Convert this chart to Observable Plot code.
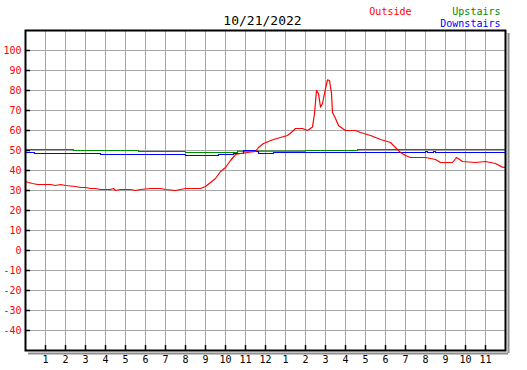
<!DOCTYPE html>
<html>
<head>
<meta charset="utf-8">
<script src="https://cdn.jsdelivr.net/npm/d3@7"></script>
<script src="https://cdn.jsdelivr.net/npm/@observablehq/plot@0.6"></script>
<style>
  html, body { margin: 0; padding: 0; background: #fff; }
  #chart svg { display: block; }
</style>
</head>
<body>
<div id="chart"></div>
<script>
const title = "10/21/2022";
const seriesNames = ["Outside", "Upstairs", "Downstairs"];
const seriesColors = ["#ff0000", "#008c00", "#0000ff"];

const outsideHours = [0, 0.15, 0.35, 0.6, 1.25, 1.5, 1.75, 2, 2.5, 2.75, 3, 3.25, 3.5, 3.75, 4.25, 4.4, 4.5, 4.75, 5.25, 5.5, 5.75, 6.25, 6.75, 7, 7.5, 7.75, 8, 8.5, 8.75, 9, 9.25, 9.5, 9.75, 10, 10.25, 10.5, 10.75, 11.1, 11.5, 11.65, 11.9, 12.4, 12.75, 13.1, 13.35, 13.5, 13.85, 14.1, 14.35, 14.45, 14.55, 14.65, 14.75, 14.85, 15, 15.1, 15.2, 15.3, 15.35, 15.5, 15.65, 15.85, 16, 16.5, 16.75, 17.25, 17.75, 18.25, 18.5, 18.75, 19, 19.25, 20, 20.5, 20.75, 21.35, 21.55, 21.85, 22.5, 23, 23.5, 23.85, 24];
const outsideTemps = [34.5, 34, 33.5, 33, 33, 32.5, 33, 32.5, 32, 31.5, 31.5, 31, 31, 30.5, 30.5, 31, 30, 30.5, 30.5, 30, 30.5, 31, 31, 30.5, 30, 30.5, 31, 31, 31, 32, 34, 36, 39.5, 41.5, 45, 48, 48.5, 49, 49.5, 51.5, 53.5, 55.5, 56.5, 57.5, 59.5, 61, 61, 60, 61.7, 68.5, 80, 78.5, 71.7, 73.5, 81, 85.3, 85, 78.5, 69, 66, 62.5, 61, 60, 60, 59, 57.5, 55.5, 54, 51.5, 49, 47.5, 46.5, 46.5, 45.5, 44, 44, 46.5, 44.5, 44, 44.5, 43.5, 41.7, 41.5];

const upstairsHours = [0, 2.4, 5.65, 8, 10.6, 14, 16.6, 24];
const upstairsTemps = [50.5, 50, 49.5, 49, 49.7, 50, 50.5, 50.5];

const downstairsHours = [0, 0.45, 3.75, 8, 9.65, 10.4, 10.9, 11.5, 11.65, 12.4, 20, 20.1, 20.4, 20.5, 24];
const downstairsTemps = [49, 48.5, 48, 47.5, 48, 48.5, 50, 49.5, 48.5, 49, 49.5, 49, 49.5, 49, 49];

const xTickValues = [1, 2, 3, 4, 5, 6, 7, 8, 9, 10, 11, 12, 13, 14, 15, 16, 17, 18, 19, 20, 21, 22, 23];
const xTickLabels = ["1", "2", "3", "4", "5", "6", "7", "8", "9", "10", "11", "12", "1", "2", "3", "4", "5", "6", "7", "8", "9", "10", "11"];
const yTickValues = [-40, -30, -20, -10, 0, 10, 20, 30, 40, 50, 60, 70, 80, 90, 100];

const toRows = (hs, vs) => hs.map((h, i) => ({h, v: vs[i]}));
const outside = toRows(outsideHours, outsideTemps);
const upstairs = toRows(upstairsHours, upstairsTemps);
const downstairs = toRows(downstairsHours, downstairsTemps);

const font = "'DejaVu Sans Mono', 'Liberation Mono', monospace";

const chart = Plot.plot({
  width: 527,
  height: 370,
  marginTop: 30,
  marginBottom: 20,
  marginLeft: 25,
  marginRight: 22,
  style: {fontFamily: font, fontSize: "10px", background: "#fff", overflow: "visible"},
  x: {domain: [0, 24], axis: null, label: null},
  y: {domain: [-50, 110], axis: null, label: null},
  marks: [
    Plot.gridX(d3.range(0, 25), {stroke: "#a6a6a6", strokeOpacity: 1, strokeWidth: 1}),
    Plot.gridY(d3.range(-50, 111, 10), {stroke: "#a6a6a6", strokeOpacity: 1, strokeWidth: 1}),
    Plot.tickY(yTickValues, {y: d => d, insetRight: 475, stroke: "black", strokeWidth: 1.5}),
    Plot.tickX(xTickValues, {x: d => d, insetTop: 315, stroke: "black", strokeWidth: 1.5}),
    Plot.line(upstairs, {x: "h", y: "v", curve: "step-after", stroke: seriesColors[1], strokeWidth: 1.2}),
    Plot.line(downstairs, {x: "h", y: "v", curve: "step-after", stroke: seriesColors[2], strokeWidth: 1.2}),
    Plot.line(outside, {x: "h", y: "v", stroke: seriesColors[0], strokeWidth: 1.2}),
    Plot.ruleX([24], {dx: 3, stroke: "#8c8c8c", strokeWidth: 2, insetTop: 3, insetBottom: -3}),
    Plot.ruleY([-50], {dy: 3, stroke: "#8c8c8c", strokeWidth: 2, insetLeft: 3, insetRight: -3}),
    Plot.frame({stroke: "black", strokeWidth: 2}),
    Plot.axisY({ticks: yTickValues, tickSize: 0, tickPadding: 4, color: "#ff0000", fontSize: 10, label: null, tickFormat: d => String(d)}),
    Plot.axisX({ticks: xTickValues, tickSize: 0, tickPadding: 5, color: "black", fontSize: 10, label: null, tickFormat: d => xTickLabels[xTickValues.indexOf(d)]}),
    Plot.text([title], {frameAnchor: "top", dy: -10, dx: -3, fontSize: 13, fill: "black", textAnchor: "middle", lineAnchor: "middle"}),
    Plot.text([seriesNames[0]], {frameAnchor: "top-right", dy: -19, dx: -94, fontSize: 10, fill: seriesColors[0], textAnchor: "end", lineAnchor: "middle"}),
    Plot.text([seriesNames[1]], {frameAnchor: "top-right", dy: -19, dx: -5, fontSize: 10, fill: seriesColors[1], textAnchor: "end", lineAnchor: "middle"}),
    Plot.text([seriesNames[2]], {frameAnchor: "top-right", dy: -7, dx: -5, fontSize: 10, fill: seriesColors[2], textAnchor: "end", lineAnchor: "middle"})
  ]
});
document.getElementById("chart").appendChild(chart);
</script>
</body>
</html>
